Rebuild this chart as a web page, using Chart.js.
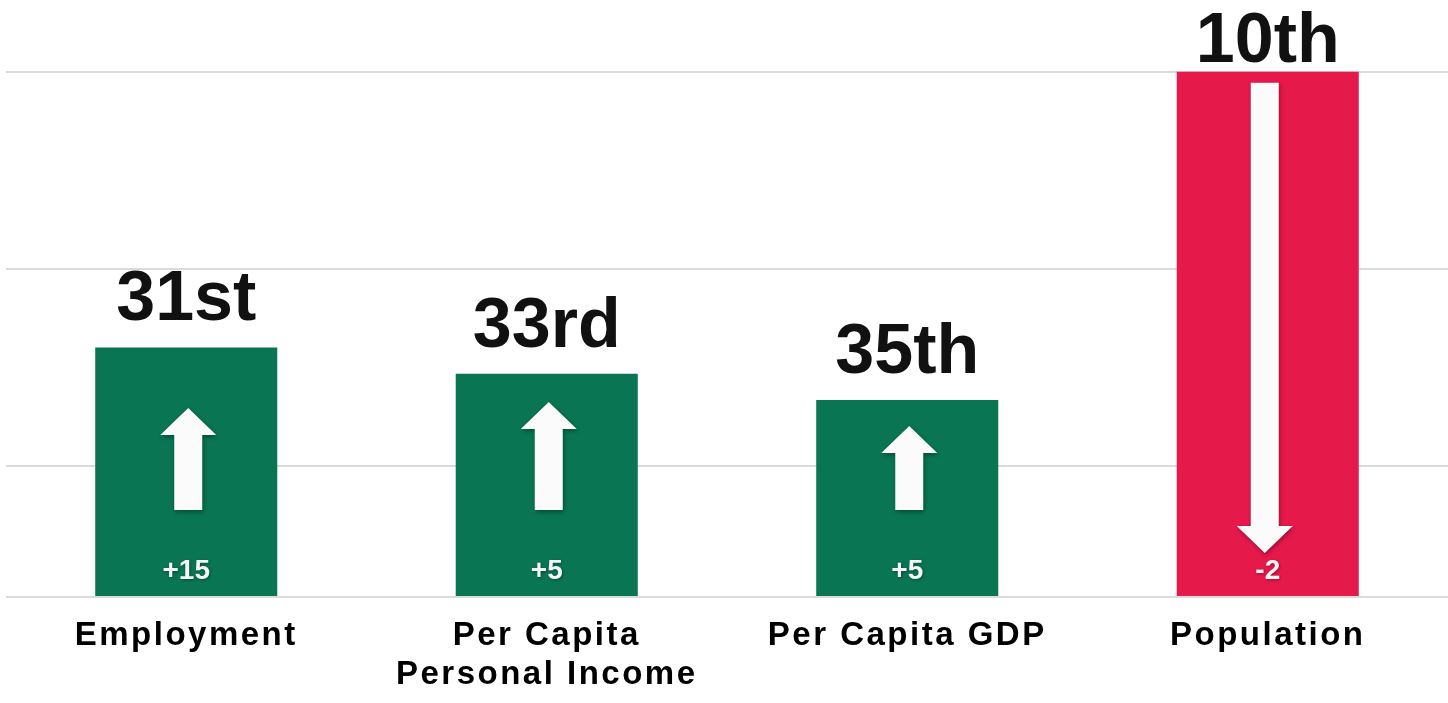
<!DOCTYPE html>
<html>
<head>
<meta charset="utf-8">
<script src="https://cdn.jsdelivr.net/npm/chart.js@4.4.1/dist/chart.umd.min.js"></script>
<style>
  html, body { margin: 0; padding: 0; background: #fff; }
  #wrap { width: 1448px; height: 703px; }
</style>
</head>
<body>
<div id="wrap"><canvas id="myChart"></canvas></div>
<script>
const ctx = document.getElementById('myChart')

const categories = ['Employment', ['Per Capita', 'Personal Income'], 'Per Capita GDP', 'Population']
const barValues = [19, 17, 15, 40]          // bar height = 50 - rank
const rankLabels = ['31st', '33rd', '35th', '10th']
const changeLabels = ['+15', '+5', '+5', '-2']
const gridTicks = [0, 10, 25, 40]

const arrowLen = [102, 108, 84, 0]   // px, up arrows only (style)
const green = '#097552'
const red = '#e6194b'
const barColors = changeLabels.map(c => c.startsWith('-') ? red : green)
const fontFamily = '"Liberation Sans", Arial, sans-serif'

// letter spacing only for the category labels
const spacing = {
  id: 'spacing',
  beforeDraw(chart) { chart.ctx.letterSpacing = '2.5px' },
  beforeDatasetsDraw(chart) { chart.ctx.letterSpacing = '0px' }
}

function arrow(c, x, tail, tip, down) {
  const shaftW = 28, headW = 56, headH = 27
  const dir = down ? -1 : 1
  const hb = tip + dir * headH
  c.beginPath()
  c.moveTo(x - shaftW / 2, tail)
  c.lineTo(x - shaftW / 2, hb)
  c.lineTo(x - headW / 2, hb)
  c.lineTo(x, tip)
  c.lineTo(x + headW / 2, hb)
  c.lineTo(x + shaftW / 2, hb)
  c.lineTo(x + shaftW / 2, tail)
  c.closePath()
  c.fill()
}

const decorations = {
  id: 'decorations',
  afterDatasetsDraw(chart) {
    const c = chart.ctx
    const base = chart.scales.y.getPixelForValue(0)
    chart.getDatasetMeta(0).data.forEach((bar, i) => {
      const x = bar.x
      const top = bar.y
      const down = changeLabels[i].startsWith('-')

      c.save()
      c.fillStyle = '#fbfbfb'
      c.shadowColor = 'rgba(0,0,0,0.35)'
      c.shadowBlur = 4
      c.shadowOffsetX = 1
      c.shadowOffsetY = 2
      if (down) {
        arrow(c, x - 3, top + 11, base - 44, true)
      } else {
        const tail = base - 87
        arrow(c, x + 2, tail, tail - arrowLen[i], false)
      }

      c.shadowBlur = 3
      c.shadowOffsetX = 1
      c.shadowOffsetY = 1
      c.fillStyle = '#f4f4f4'
      c.font = 'bold 28px ' + fontFamily
      c.textAlign = 'center'
      c.textBaseline = 'middle'
      c.fillText(changeLabels[i], x, base - 26)
      c.restore()

      c.save()
      c.fillStyle = '#111'
      c.font = 'bold 70px ' + fontFamily
      c.textAlign = 'center'
      c.textBaseline = 'alphabetic'
      c.fillText(rankLabels[i], x, Math.max(top - 27, 62))
      c.restore()
    })
  }
}

const mychart = new Chart(ctx, {
  type: 'bar',
  data: {
    labels: categories,
    datasets: [{
      data: barValues,
      backgroundColor: barColors,
      barPercentage: 0.505,
      categoryPercentage: 1.0
    }]
  },
  options: {
    responsive: true,
    maintainAspectRatio: false,
    animation: false,
    layout: { padding: { top: 6, left: 6, right: 0, bottom: 10 } },
    plugins: {
      legend: { display: false },
      tooltip: { enabled: false }
    },
    scales: {
      x: {
        grid: { display: false, drawTicks: false },
        border: { display: false },
        afterFit: s => { s.height = 96 },
        ticks: {
          color: '#000',
          padding: 19,
          maxRotation: 0,
          autoSkip: false,
          font: { family: fontFamily, size: 33, weight: 'bold', lineHeight: 1.2 }
        }
      },
      y: {
        min: 0,
        max: 45,
        afterBuildTicks: s => { s.ticks = gridTicks.map(v => ({ value: v })) },
        afterFit: s => { s.width = 0 },
        ticks: { display: false },
        grid: { color: '#dadada', lineWidth: 2, drawTicks: false },
        border: { display: false }
      }
    }
  },
  plugins: [spacing, decorations]
})
</script>
</body>
</html>
